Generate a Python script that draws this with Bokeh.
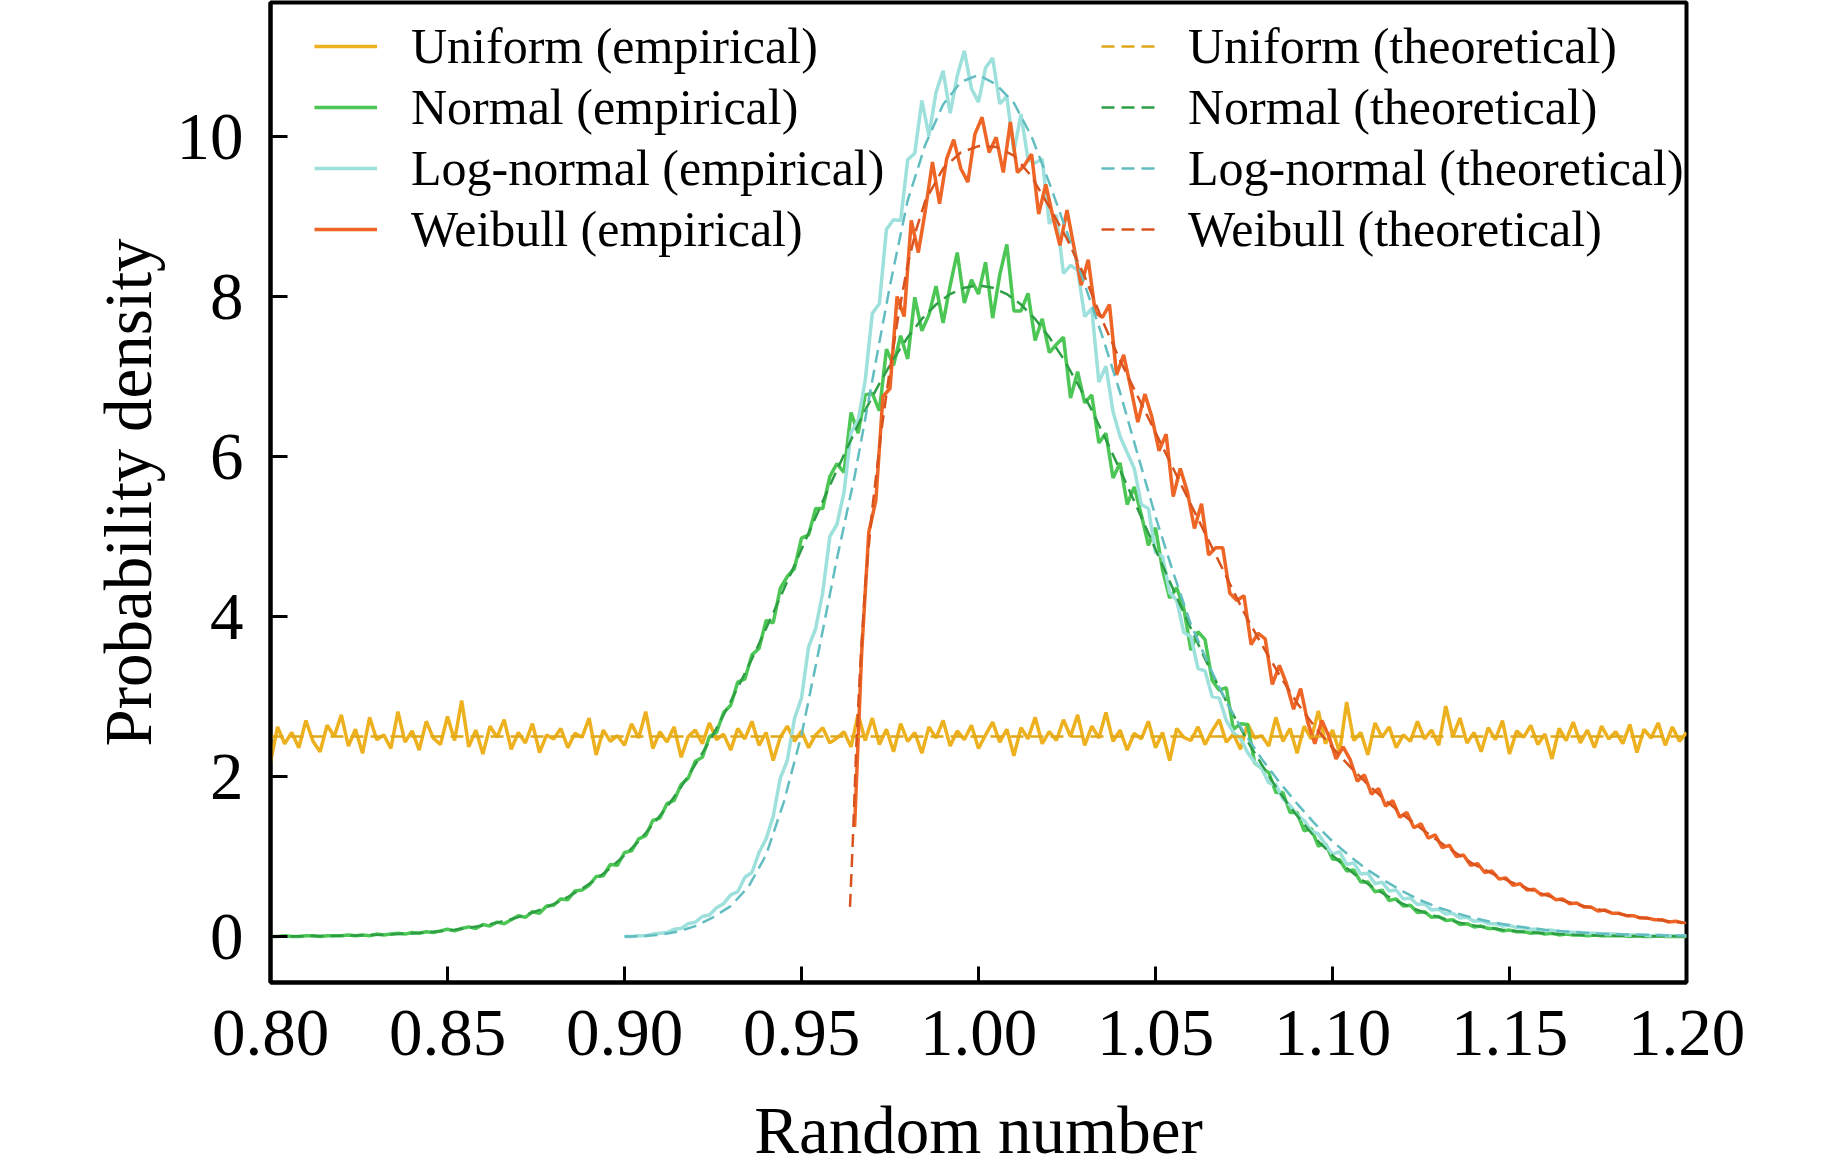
import numpy as np
from bokeh.plotting import figure
from bokeh.models import Range1d, FixedTicker, NumeralTickFormatter, Legend, LegendItem
from bokeh.embed import file_html
from bokeh.resources import INLINE

# ---------------- data ----------------
X_TICKS = [0.80, 0.85, 0.90, 0.95, 1.00, 1.05, 1.10, 1.15, 1.20]
Y_TICKS = [0, 2, 4, 6, 8, 10]

BIN_STEP = 0.002
UNI_START = 0.800
UNIFORM_EMP = [
    2.18, 2.62, 2.41, 2.55, 2.36, 2.70, 2.44, 2.31, 2.64, 2.50,
    2.77, 2.38, 2.59, 2.29, 2.74, 2.46, 2.52, 2.35, 2.81, 2.43,
    2.57, 2.33, 2.69, 2.48, 2.40, 2.75, 2.45, 2.95, 2.37, 2.58,
    2.28, 2.63, 2.49, 2.71, 2.34, 2.55, 2.42, 2.66, 2.30, 2.52,
    2.47, 2.60, 2.36, 2.54, 2.49, 2.73, 2.27, 2.58, 2.44, 2.51,
    2.39, 2.66, 2.48, 2.81, 2.35, 2.56, 2.43, 2.62, 2.24, 2.50,
    2.58, 2.41, 2.67, 2.46, 2.53, 2.33, 2.60, 2.47, 2.69, 2.39,
    2.55, 2.20, 2.49, 2.63, 2.44, 2.57, 2.36, 2.52, 2.61, 2.42,
    2.48, 2.56, 2.37, 2.78, 2.45, 2.73, 2.40, 2.59, 2.31, 2.66,
    2.44, 2.55, 2.29, 2.62, 2.48, 2.70, 2.38, 2.57, 2.46, 2.64,
    2.35, 2.52, 2.68, 2.43, 2.59, 2.26, 2.61, 2.47, 2.74, 2.41,
    2.56, 2.45, 2.71, 2.50, 2.77, 2.39, 2.63, 2.48, 2.80, 2.44,
    2.58, 2.33, 2.54, 2.47, 2.69, 2.36, 2.55, 2.20, 2.60, 2.49,
    2.45, 2.62, 2.40, 2.57, 2.71, 2.43, 2.53, 2.34, 2.66, 2.48,
    2.51, 2.38, 2.74, 2.44, 2.60, 2.29, 2.63, 2.47, 2.82, 2.41,
    2.58, 2.30, 2.93, 2.45, 2.55, 2.27, 2.67, 2.49, 2.62, 2.36,
    2.52, 2.44, 2.69, 2.47, 2.58, 2.39, 2.88, 2.50, 2.73, 2.42,
    2.55, 2.31, 2.61, 2.46, 2.70, 2.28, 2.57, 2.49, 2.64, 2.40,
    2.53, 2.22, 2.60, 2.45, 2.68, 2.42, 2.58, 2.36, 2.63, 2.47,
    2.56, 2.41, 2.65, 2.30, 2.59, 2.48, 2.67, 2.39, 2.62, 2.44,
    2.55,
]

NOR_START = 0.800
NORMAL_EMP = [
    0.00, 0.00, 0.01, 0.00, 0.00, 0.01, 0.01, 0.00, 0.01, 0.01,
    0.01, 0.02, 0.01, 0.02, 0.01, 0.03, 0.02, 0.03, 0.04, 0.03,
    0.05, 0.04, 0.06, 0.05, 0.07, 0.09, 0.07, 0.10, 0.12, 0.10,
    0.15, 0.13, 0.18, 0.16, 0.21, 0.26, 0.24, 0.31, 0.29, 0.38,
    0.39, 0.47, 0.46, 0.57, 0.58, 0.64, 0.75, 0.76, 0.90, 0.89,
    1.05, 1.07, 1.22, 1.26, 1.45, 1.48, 1.66, 1.70, 1.90, 1.98,
    2.19, 2.24, 2.50, 2.55, 2.80, 2.89, 3.18, 3.22, 3.52, 3.60,
    3.95, 3.92, 4.35, 4.50, 4.60, 4.98, 5.02, 5.35, 5.35, 5.75,
    5.91, 5.80, 6.55, 6.29, 6.77, 6.79, 6.57, 7.34, 7.14, 7.51,
    7.22, 7.99, 7.57, 7.77, 8.13, 7.67, 8.14, 8.55, 7.92, 8.21,
    8.03, 8.43, 7.73, 8.27, 8.65, 7.82, 7.82, 8.04, 7.45, 7.72,
    7.30, 7.40, 7.49, 6.73, 7.06, 6.67, 6.77, 6.17, 6.29, 5.73,
    5.92, 5.40, 5.62, 5.27, 4.89, 5.11, 4.58, 4.23, 4.36, 4.10,
    3.58, 3.81, 3.71, 3.20, 3.08, 3.11, 2.59, 2.66, 2.65, 2.17,
    2.10, 2.05, 1.80, 1.80, 1.55, 1.55, 1.32, 1.35, 1.13, 1.16,
    0.97, 0.96, 0.82, 0.83, 0.68, 0.68, 0.56, 0.58, 0.45, 0.47,
    0.38, 0.39, 0.30, 0.31, 0.24, 0.25, 0.20, 0.21, 0.15, 0.16,
    0.12, 0.13, 0.10, 0.10, 0.07, 0.08, 0.06, 0.06, 0.04, 0.05,
    0.03, 0.04, 0.02, 0.03, 0.02, 0.02, 0.01, 0.02, 0.01, 0.01,
    0.01, 0.01, 0.00, 0.01, 0.00, 0.00, 0.01, 0.00, 0.00, 0.00,
    0.00,
]

LOG_START = 0.900
LOGNORMAL_EMP = [
    0.00, 0.00, 0.01, 0.01, 0.03, 0.04, 0.05, 0.09, 0.10, 0.16,
    0.18, 0.25, 0.27, 0.36, 0.41, 0.52, 0.56, 0.74, 0.80, 1.05,
    1.22, 1.50, 1.98, 2.20, 2.72, 2.98, 3.62, 3.85, 4.30, 5.00,
    5.15, 5.55, 6.30, 6.45, 6.95, 7.79, 7.91, 8.84, 8.96, 8.95,
    9.71, 9.79, 10.45, 10.01, 10.55, 10.82, 10.29, 10.76, 11.07, 10.60,
    10.43, 10.86, 10.98, 10.41, 10.50, 9.81, 10.28, 9.71, 9.67, 9.72,
    8.91, 9.02, 8.29, 8.39, 8.33, 7.75, 7.85, 6.93, 7.13, 6.56,
    6.25, 6.05, 5.85, 5.40, 5.35, 4.80, 4.75, 4.30, 4.20, 3.80,
    3.75, 3.35, 3.32, 3.00, 2.98, 2.70, 2.55, 2.48, 2.30, 2.18,
    2.10, 1.92, 1.90, 1.72, 1.64, 1.52, 1.45, 1.32, 1.28, 1.15,
    1.03, 1.06, 0.90, 0.92, 0.78, 0.79, 0.66, 0.68, 0.57, 0.58,
    0.47, 0.48, 0.40, 0.41, 0.33, 0.34, 0.28, 0.29, 0.23, 0.24,
    0.19, 0.20, 0.16, 0.16, 0.13, 0.14, 0.11, 0.11, 0.09, 0.09,
    0.07, 0.08, 0.06, 0.06, 0.05, 0.05, 0.04, 0.04, 0.03, 0.03,
    0.03, 0.02, 0.02, 0.02, 0.02, 0.01, 0.02, 0.01, 0.01, 0.01,
    0.01,
]

WEI_START = 0.965
WEIBULL_EMP = [
    1.37, 3.55, 5.05, 5.45, 6.75, 6.85, 8.00, 7.75, 8.95, 8.55,
    9.08, 9.68, 9.16, 9.72, 9.96, 9.60, 9.43, 10.03, 10.24, 9.80,
    9.99, 9.55, 10.18, 9.55, 9.64, 9.78, 9.03, 9.40, 9.00, 8.64,
    9.08, 8.61, 8.14, 8.46, 7.80, 7.74, 7.90, 7.02, 7.27, 6.86,
    6.43, 6.78, 6.49, 6.07, 6.28, 5.50, 5.85, 5.56, 5.10, 5.41,
    4.77, 4.86, 4.86, 4.29, 4.20, 4.26, 3.65, 3.79, 3.72, 3.15,
    3.39, 3.16, 2.84, 3.10, 2.68, 2.41, 2.70, 2.50, 2.22, 2.37,
    2.21, 1.94, 2.02, 1.78, 1.85, 1.63, 1.70, 1.49, 1.55, 1.36,
    1.41, 1.23, 1.27, 1.11, 1.14, 1.00, 1.02, 0.89, 0.91, 0.80,
    0.82, 0.72, 0.73, 0.64, 0.66, 0.58, 0.59, 0.52, 0.53, 0.46,
    0.47, 0.41, 0.42, 0.37, 0.37, 0.32, 0.33, 0.29, 0.29, 0.26,
    0.26, 0.23, 0.23, 0.21, 0.21, 0.18, 0.19, 0.17,
]

UNIFORM_TH_X = [0.80, 1.20]
UNIFORM_TH_Y = [2.50, 2.50]

NORMAL_TH_STEP = 0.004
NORMAL_TH = [
    0.002, 0.003, 0.004, 0.005, 0.007, 0.010, 0.013, 0.017, 0.023, 0.030,
    0.039, 0.051, 0.066, 0.085, 0.109, 0.137, 0.173, 0.216, 0.268, 0.331,
    0.406, 0.494, 0.597, 0.717, 0.856, 1.014, 1.19, 1.40, 1.62, 1.87,
    2.15, 2.44, 2.77, 3.11, 3.47, 3.85, 4.24, 4.64, 5.04, 5.44,
    5.83, 6.21, 6.58, 6.91, 7.22, 7.49, 7.72, 7.90, 8.03, 8.11,
    8.14,
    8.11, 8.03, 7.90, 7.72, 7.49, 7.22, 6.91, 6.58, 6.21, 5.83,
    5.44, 5.04, 4.64, 4.24, 3.85, 3.47, 3.11, 2.77, 2.44, 2.15,
    1.87, 1.62, 1.40, 1.19, 1.014, 0.856, 0.717, 0.597, 0.494, 0.406,
    0.331, 0.268, 0.216, 0.173, 0.137, 0.109, 0.085, 0.066, 0.051, 0.039,
    0.030, 0.023, 0.017, 0.013, 0.010, 0.007, 0.005, 0.004, 0.003, 0.002,
]

LOG_TH_STEP = 0.005
LOGNORMAL_TH = [
    0.00, 0.005, 0.02, 0.06, 0.13, 0.24, 0.38, 0.62, 1.02, 1.68,
    2.52, 3.60, 4.72, 5.75, 6.95, 8.14, 9.20, 9.90, 10.40, 10.68,
    10.77, 10.65, 10.42, 10.00, 9.42, 8.80, 8.15, 7.50, 6.80, 6.02,
    5.25, 4.55, 3.90, 3.40, 2.93, 2.55, 2.22, 1.93, 1.66, 1.41,
    1.19, 1.00, 0.83, 0.69, 0.56, 0.45, 0.36, 0.29, 0.23, 0.18,
    0.14, 0.11, 0.085, 0.065, 0.05, 0.038, 0.029, 0.022, 0.017, 0.013,
    0.010,
]

WEIBULL_TH_X = [
    0.9637, 0.9645, 0.9655, 0.9665, 0.968, 0.970, 0.9725, 0.975, 0.9775, 0.980,
    0.9825, 0.985, 0.990, 0.995, 1.000, 1.005, 1.010, 1.015, 1.020, 1.025,
    1.030, 1.035, 1.040, 1.045, 1.050, 1.055, 1.060, 1.065, 1.070, 1.075,
    1.080, 1.085, 1.090, 1.095, 1.100, 1.105, 1.110, 1.115, 1.120, 1.125,
    1.130, 1.135, 1.140, 1.145, 1.150, 1.155, 1.160, 1.165, 1.170, 1.175,
    1.180, 1.185, 1.190, 1.195, 1.200,
]
WEIBULL_TH_Y = [
    0.37, 1.2, 2.4, 3.3, 4.4, 5.35, 6.3, 7.1, 7.8, 8.4,
    8.85, 9.2, 9.6, 9.8, 9.88, 9.87, 9.76, 9.5, 9.12, 8.72,
    8.25, 7.7, 7.2, 6.75, 6.3, 5.85, 5.4, 4.95, 4.5, 4.05,
    3.65, 3.27, 2.92, 2.62, 2.36, 2.12, 1.9, 1.7, 1.52, 1.35,
    1.19, 1.04, 0.9, 0.79, 0.69, 0.6, 0.52, 0.45, 0.39, 0.34,
    0.29, 0.25, 0.22, 0.19, 0.17,
]

LABELS_EMP = ["Uniform (empirical)", "Normal (empirical)",
              "Log-normal (empirical)", "Weibull (empirical)"]
LABELS_TH = ["Uniform (theoretical)", "Normal (theoretical)",
             "Log-normal (theoretical)", "Weibull (theoretical)"]


def grid(start, step, n):
    return np.round(start + step * np.arange(n), 5)


# ---------------- figure ----------------
FONT = "Liberation Serif"
C_EMP = ["#EDB120", "#4CC655", "#9EE0DC", "#EE6526"]
C_TH = ["#E0A818", "#2E9E45", "#62BDC0", "#D9531E"]

p = figure(width=1843, height=1173, output_backend="svg", toolbar_location=None,
           x_range=Range1d(0.8, 1.2), y_range=Range1d(-0.575, 11.675),
           min_border_left=270, min_border_right=157,
           min_border_top=2, min_border_bottom=191)
p.background_fill_color = "white"
p.border_fill_color = "white"
p.xgrid.visible = False
p.ygrid.visible = False
p.outline_line_color = "black"
p.outline_line_width = 4

for ax in (p.xaxis[0], p.yaxis[0]):
    ax.axis_line_width = 4
    ax.axis_line_color = "black"
    ax.major_tick_line_width = 3
    ax.major_tick_line_color = "black"
    ax.major_tick_out = 0
    ax.minor_tick_line_color = None
    ax.major_label_text_font = FONT
    ax.major_label_text_font_size = "67px"
    ax.major_label_text_color = "black"
    ax.axis_label_text_font = FONT
    ax.axis_label_text_font_size = "67px"
    ax.axis_label_text_font_style = "normal"
    ax.axis_label_text_color = "black"

p.xaxis.ticker = FixedTicker(ticks=X_TICKS)
p.xaxis.formatter = NumeralTickFormatter(format="0.00")
p.xaxis.major_tick_in = 16
p.xaxis.major_label_standoff = 28
p.xaxis.axis_label = "Random number"
p.xaxis.axis_label_standoff = 35

p.yaxis.ticker = FixedTicker(ticks=Y_TICKS)
p.yaxis.major_tick_in = 17
p.yaxis.major_label_standoff = 27
p.yaxis.axis_label = "Probability density"
p.yaxis.axis_label_standoff = 9

emp_data = [
    (grid(UNI_START, BIN_STEP, len(UNIFORM_EMP)), UNIFORM_EMP),
    (grid(NOR_START, BIN_STEP, len(NORMAL_EMP)), NORMAL_EMP),
    (grid(LOG_START, BIN_STEP, len(LOGNORMAL_EMP)), LOGNORMAL_EMP),
    (grid(WEI_START, BIN_STEP, len(WEIBULL_EMP)), WEIBULL_EMP),
]
th_data = [
    (UNIFORM_TH_X, UNIFORM_TH_Y),
    (grid(0.8, NORMAL_TH_STEP, len(NORMAL_TH)), NORMAL_TH),
    (grid(0.9, LOG_TH_STEP, len(LOGNORMAL_TH)), LOGNORMAL_TH),
    (WEIBULL_TH_X, WEIBULL_TH_Y),
]

emp_r = []
for (xs, ys), c in zip(emp_data, C_EMP):
    emp_r.append(p.line(list(xs), list(ys), line_color=c, line_width=3.5))
th_r = []
for (xs, ys), c in zip(th_data, C_TH):
    th_r.append(p.line(list(xs), list(ys), line_color=c, line_width=2.5,
                       line_dash="13 7"))


def make_legend(labels, rends, loc, gw, standoff):
    leg = Legend(items=[LegendItem(label=l, renderers=[r]) for l, r in zip(labels, rends)],
                 location=loc, orientation="vertical",
                 label_text_font=FONT, label_text_font_size="50px",
                 label_text_color="black",
                 glyph_width=gw, glyph_height=54, label_height=54,
                 label_standoff=standoff, spacing=3, padding=0, margin=0,
                 border_line_alpha=0, background_fill_alpha=0)
    return leg


p.add_layout(make_legend(LABELS_EMP, emp_r, (44, 724), 63, 34), "center")
p.add_layout(make_legend(LABELS_TH, th_r, (831, 724), 54, 33), "center")

open("out.html", "w").write(file_html(p, INLINE))
